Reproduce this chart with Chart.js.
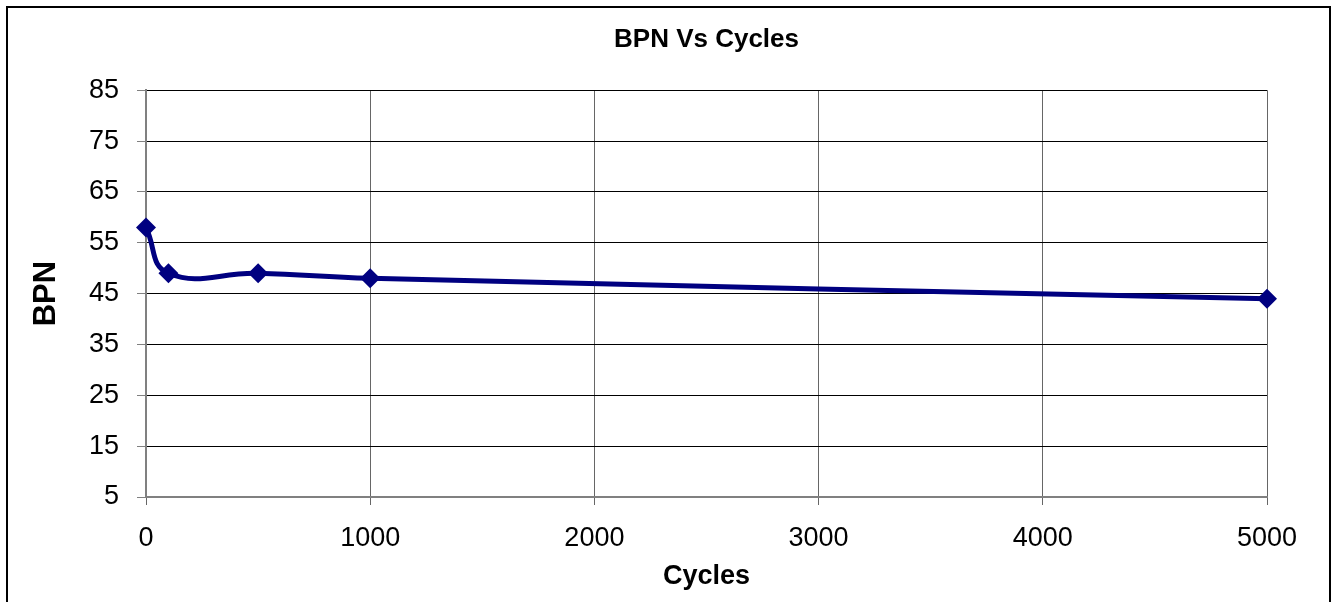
<!DOCTYPE html>
<html>
<head>
<meta charset="utf-8">
<script src="https://cdn.jsdelivr.net/npm/chart.js@4/dist/chart.umd.min.js"></script>
<style>
  html,body{margin:0;padding:0;background:#fff;overflow:hidden}
  #wrap{position:absolute;left:0;top:0;width:1333px;height:602px}
  #frame{position:absolute;left:6px;top:6px;width:1321px;height:700px;border:2px solid #000;border-bottom:none;pointer-events:none}
</style>
</head>
<body>
<div id="wrap"><canvas id="chart" width="1333" height="602"></canvas></div>
<div id="frame"></div>
<script>
const cycles = [0, 100, 500, 1000, 5000];
const bpn = [58, 49, 49, 48, 44];
const yTicks = [5, 15, 25, 35, 45, 55, 65, 75, 85];
const xTicks = [0, 1000, 2000, 3000, 4000, 5000];

const FONT = "'Liberation Sans', Arial, sans-serif";
const navy = "#000080";

const isLabelled = v => yTicks.includes(v);

new Chart(document.getElementById("chart"), {
  type: "scatter",
  data: {
    datasets: [{
      label: "BPN",
      data: cycles.map((c, i) => ({x: c, y: bpn[i]})),
      showLine: true,
      clip: false,
      borderColor: navy,
      backgroundColor: navy,
      borderWidth: 5,
      tension: 0.45,
      pointStyle: "rectRot",
      pointRadius: 10,
      pointBorderWidth: 0
    }]
  },
  options: {
    responsive: false,
    animation: false,
    layout: {padding: {left: 0, right: 66, top: 0, bottom: 0}},
    plugins: {
      legend: {display: false},
      tooltip: {enabled: false},
      title: {
        display: true,
        fullSize: false,
        text: "BPN Vs Cycles",
        color: "#000",
        font: {family: FONT, size: 26, weight: "bold", lineHeight: 1.2},
        padding: {top: 24, bottom: 35}
      }
    },
    scales: {
      x: {
        type: "linear",
        min: 0, max: 5000,
        afterBuildTicks: s => { s.ticks = xTicks.map(v => ({value: v})); },
        afterFit: s => { s.height = 105; },
        ticks: {
          color: "#000",
          font: {family: FONT, size: 27},
          padding: 17,
          maxRotation: 0,
          callback: v => String(v)
        },
        grid: {color: "#666", lineWidth: 1, tickLength: 8, tickColor: "#666"},
        border: {color: "#808080", width: 2},
        title: {
          display: true,
          text: "Cycles",
          color: "#000",
          font: {family: FONT, size: 27, weight: "bold", lineHeight: 1.2},
          padding: {top: 0, bottom: 9}
        }
      },
      y: {
        type: "linear",
        min: 5, max: 85,
        afterBuildTicks: s => {
          const t = [];
          for (let v = 5; v <= 85; v += 5) t.push({value: v});
          s.ticks = t;
        },
        afterFit: s => { s.width = 146; },
        ticks: {
          color: "#000",
          font: {family: FONT, size: 27},
          padding: 18,
          callback: v => isLabelled(v) ? String(v) : ""
        },
        grid: {
          color: ctx => ctx.tick && ctx.tick.value === 5 ? "#808080" : "#000",
          lineWidth: 1,
          tickLength: 9,
          tickColor: ctx => ctx.tick && isLabelled(ctx.tick.value) ? "#808080" : "rgba(0,0,0,0)"
        },
        border: {color: "#808080", width: 2},
        title: {
          display: true,
          text: "BPN",
          color: "#000",
          font: {family: FONT, size: 31, weight: "bold", lineHeight: 1.2},
          padding: {top: 28, bottom: 0}
        }
      }
    }
  }
});
</script>
</body>
</html>
